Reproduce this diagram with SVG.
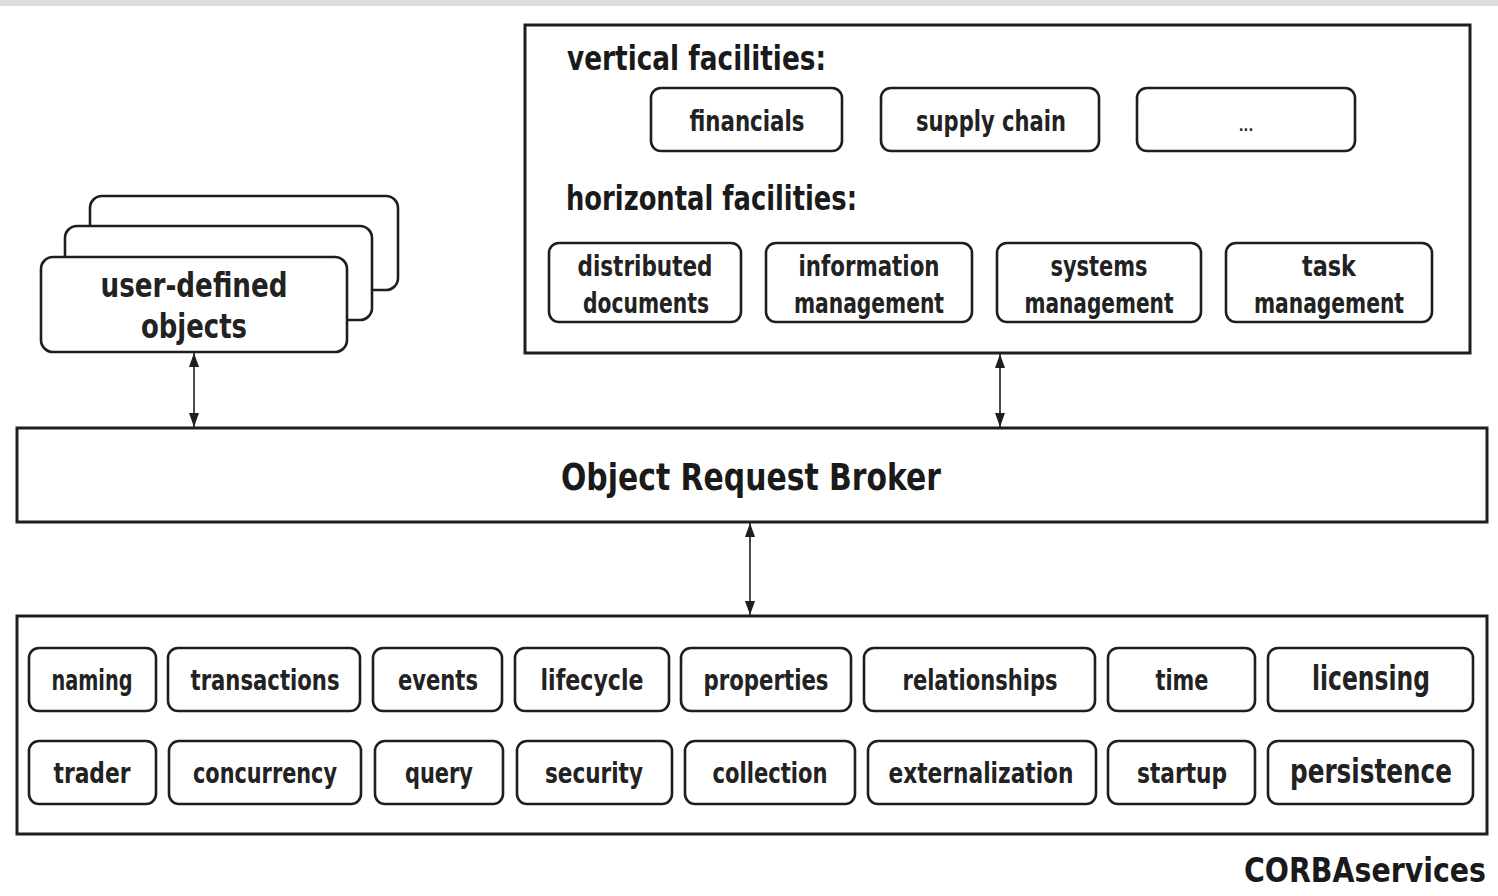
<svg xmlns="http://www.w3.org/2000/svg" width="1498" height="896" viewBox="0 0 1498 896">
  <style>
    .frame { fill: #ffffff; stroke: #1e1e1e; stroke-width: 3; }
    .box { fill: #ffffff; stroke: #1e1e1e; stroke-width: 2.6; }
    .lbl { font-family: "DejaVu Sans Condensed", "DejaVu Sans", sans-serif; font-size: 29px; font-weight: bold; fill: #222222; text-anchor: middle; }
    .lbl.lg { font-size: 33px; }
    .lbl.dots { font-size: 14px; }
    .head { font-family: "DejaVu Sans Condensed", "DejaVu Sans", sans-serif; font-size: 33px; font-weight: bold; fill: #1a1a1a; }
    .big { font-family: "DejaVu Sans Condensed", "DejaVu Sans", sans-serif; font-size: 38px; font-weight: bold; fill: #1a1a1a; text-anchor: middle; }
    .big.title { font-size: 33px; }
    .conn { stroke: #1e1e1e; stroke-width: 1.6; fill: none; marker-start: url(#ah); marker-end: url(#ah); }
  </style>
  <defs>
    <marker id="ah" viewBox="0 0 14 10" refX="14" refY="5" markerWidth="14" markerHeight="10" markerUnits="userSpaceOnUse" orient="auto-start-reverse">
      <path d="M0,0 L14,5 L0,10 Z" fill="#1e1e1e"/>
    </marker>
  </defs>

  <rect x="0" y="0" width="1498" height="896" fill="#ffffff"/>
  <rect x="0" y="0" width="1498" height="6" fill="#dcdcdc"/>

  <!-- user-defined objects: stacked cards -->
  <g id="user-objects">
    <rect class="box" x="90" y="196" width="308" height="94" rx="12"/>
    <rect class="box" x="65" y="226" width="307" height="94" rx="12"/>
    <rect class="box" x="41" y="257" width="306" height="95" rx="12"/>
    <text class="lbl lg" x="194" y="297" textLength="187" lengthAdjust="spacingAndGlyphs">user-defined</text>
    <text class="lbl lg" x="194" y="338" textLength="106" lengthAdjust="spacingAndGlyphs">objects</text>
  </g>

  <!-- CORBAfacilities -->
  <g id="facilities">
    <rect class="frame" x="525" y="25" width="945" height="328"/>
    <text class="head" x="567" y="70" textLength="259" lengthAdjust="spacingAndGlyphs">vertical facilities:</text>
    <text class="head" x="566" y="210" textLength="291" lengthAdjust="spacingAndGlyphs">horizontal facilities:</text>
  </g>
  <g id="financials">
    <rect class="box" x="651" y="88" width="191" height="63" rx="10"/>
    <text class="lbl" x="747" y="131" textLength="115" lengthAdjust="spacingAndGlyphs">financials</text>
  </g>
  <g id="supply-chain">
    <rect class="box" x="881" y="88" width="218" height="63" rx="10"/>
    <text class="lbl" x="991" y="131" textLength="150" lengthAdjust="spacingAndGlyphs">supply chain</text>
  </g>
  <g id="more-vertical">
    <rect class="box" x="1137" y="88" width="218" height="63" rx="10"/>
    <text class="lbl dots" x="1246" y="131">...</text>
  </g>
  <g id="distributed-documents">
    <rect class="box" x="549" y="243" width="192" height="79" rx="10"/>
    <text class="lbl" x="645" y="276" textLength="135" lengthAdjust="spacingAndGlyphs">distributed</text>
    <text class="lbl" x="646" y="313" textLength="126" lengthAdjust="spacingAndGlyphs">documents</text>
  </g>
  <g id="information-management">
    <rect class="box" x="766" y="243" width="206" height="79" rx="10"/>
    <text class="lbl" x="869" y="276" textLength="141" lengthAdjust="spacingAndGlyphs">information</text>
    <text class="lbl" x="869" y="313" textLength="150" lengthAdjust="spacingAndGlyphs">management</text>
  </g>
  <g id="systems-management">
    <rect class="box" x="997" y="243" width="204" height="79" rx="10"/>
    <text class="lbl" x="1099" y="276" textLength="97" lengthAdjust="spacingAndGlyphs">systems</text>
    <text class="lbl" x="1099" y="313" textLength="149" lengthAdjust="spacingAndGlyphs">management</text>
  </g>
  <g id="task-management">
    <rect class="box" x="1226" y="243" width="206" height="79" rx="10"/>
    <text class="lbl" x="1329" y="276" textLength="54" lengthAdjust="spacingAndGlyphs">task</text>
    <text class="lbl" x="1329" y="313" textLength="150" lengthAdjust="spacingAndGlyphs">management</text>
  </g>

  <!-- Object Request Broker -->
  <g id="orb">
    <rect class="frame" x="17" y="428" width="1470" height="94"/>
    <text class="big" x="751" y="490" textLength="380" lengthAdjust="spacingAndGlyphs">Object Request Broker</text>
  </g>

  <!-- CORBAservices -->
  <g id="services">
    <rect class="frame" x="17" y="616" width="1470" height="218"/>
    <text class="big title" x="1365" y="882" textLength="242" lengthAdjust="spacingAndGlyphs">CORBAservices</text>
  </g>
  <g id="naming"><rect class="box" x="29" y="648" width="127" height="63" rx="10"/><text class="lbl" x="92" y="690" textLength="81" lengthAdjust="spacingAndGlyphs">naming</text></g>
  <g id="transactions"><rect class="box" x="168" y="648" width="192" height="63" rx="10"/><text class="lbl" x="265" y="690" textLength="149" lengthAdjust="spacingAndGlyphs">transactions</text></g>
  <g id="events"><rect class="box" x="373" y="648" width="129" height="63" rx="10"/><text class="lbl" x="438" y="690" textLength="80" lengthAdjust="spacingAndGlyphs">events</text></g>
  <g id="lifecycle"><rect class="box" x="515" y="648" width="154" height="63" rx="10"/><text class="lbl" x="592" y="690" textLength="103" lengthAdjust="spacingAndGlyphs">lifecycle</text></g>
  <g id="properties"><rect class="box" x="681" y="648" width="170" height="63" rx="10"/><text class="lbl" x="766" y="690" textLength="125" lengthAdjust="spacingAndGlyphs">properties</text></g>
  <g id="relationships"><rect class="box" x="864" y="648" width="231" height="63" rx="10"/><text class="lbl" x="980" y="690" textLength="155" lengthAdjust="spacingAndGlyphs">relationships</text></g>
  <g id="time"><rect class="box" x="1108" y="648" width="147" height="63" rx="10"/><text class="lbl" x="1182" y="690" textLength="53" lengthAdjust="spacingAndGlyphs">time</text></g>
  <g id="licensing"><rect class="box" x="1268" y="648" width="205" height="63" rx="10"/><text class="lbl lg" x="1371" y="690" textLength="118" lengthAdjust="spacingAndGlyphs">licensing</text></g>
  <g id="trader"><rect class="box" x="29" y="741" width="127" height="63" rx="10"/><text class="lbl" x="92" y="783" textLength="77" lengthAdjust="spacingAndGlyphs">trader</text></g>
  <g id="concurrency"><rect class="box" x="169" y="741" width="192" height="63" rx="10"/><text class="lbl" x="265" y="783" textLength="144" lengthAdjust="spacingAndGlyphs">concurrency</text></g>
  <g id="query"><rect class="box" x="375" y="741" width="128" height="63" rx="10"/><text class="lbl" x="439" y="783" textLength="68" lengthAdjust="spacingAndGlyphs">query</text></g>
  <g id="security"><rect class="box" x="517" y="741" width="155" height="63" rx="10"/><text class="lbl" x="594" y="783" textLength="98" lengthAdjust="spacingAndGlyphs">security</text></g>
  <g id="collection"><rect class="box" x="685" y="741" width="170" height="63" rx="10"/><text class="lbl" x="770" y="783" textLength="115" lengthAdjust="spacingAndGlyphs">collection</text></g>
  <g id="externalization"><rect class="box" x="868" y="741" width="228" height="63" rx="10"/><text class="lbl" x="981" y="783" textLength="185" lengthAdjust="spacingAndGlyphs">externalization</text></g>
  <g id="startup"><rect class="box" x="1108" y="741" width="147" height="63" rx="10"/><text class="lbl" x="1182" y="783" textLength="90" lengthAdjust="spacingAndGlyphs">startup</text></g>
  <g id="persistence"><rect class="box" x="1268" y="741" width="205" height="63" rx="10"/><text class="lbl lg" x="1371" y="783" textLength="162" lengthAdjust="spacingAndGlyphs">persistence</text></g>

  <!-- connectors to the broker -->
  <g id="connectors">
    <line class="conn" x1="194" y1="353" x2="194" y2="427"/>
    <line class="conn" x1="1000" y1="354" x2="1000" y2="427"/>
    <line class="conn" x1="750" y1="523" x2="750" y2="615"/>
  </g>
</svg>
